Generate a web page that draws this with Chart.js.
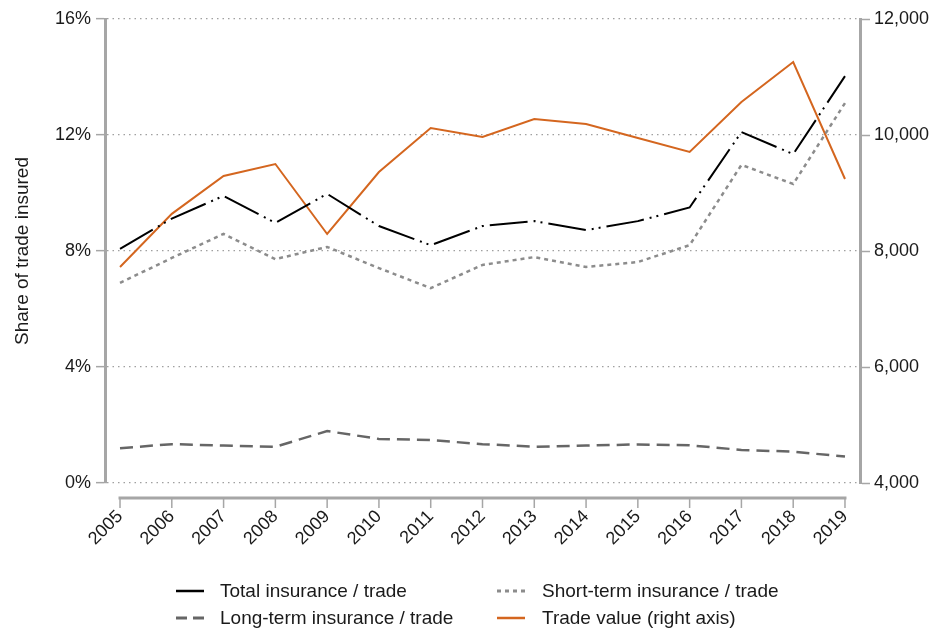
<!DOCTYPE html>
<html lang="en">
<head>
    <meta charset="UTF-8">
    <title>Share of trade insured</title>
    <script src="https://cdn.jsdelivr.net/npm/chart.js"></script>
    <style>
        html, body { margin: 0; padding: 0; background: #fff; }
        .wrap { width: 934px; height: 630px; }
    </style>
</head>
<body>
    <div class="wrap">
        <canvas id="myChart" width="934" height="630"></canvas>
    </div>

    <script>
        // data
        const years = [2005, 2006, 2007, 2008, 2009, 2010, 2011, 2012, 2013, 2014, 2015, 2016, 2017, 2018, 2019];
        const totalShare = [8.07, 9.12, 9.9, 8.97, 9.97, 8.86, 8.2, 8.86, 9.03, 8.72, 9.03, 9.5, 12.1, 11.34, 14.03];
        const shortShare = [6.9, 7.76, 8.59, 7.72, 8.14, 7.41, 6.72, 7.52, 7.79, 7.45, 7.62, 8.2, 10.97, 10.31, 13.1];
        const longShare = [1.2, 1.34, 1.29, 1.25, 1.79, 1.52, 1.48, 1.34, 1.25, 1.29, 1.33, 1.3, 1.14, 1.08, 0.91];
        const tradeValue = [7724, 8640, 9293, 9500, 8293, 9362, 10121, 9965, 10276, 10190, 9948, 9707, 10569, 11259, 9241];
        const leftTicks = [0, 4, 8, 12, 16];
        const rightTicks = [4000, 6000, 8000, 10000, 12000];

        const FONT = '"Liberation Sans", Arial, sans-serif';
        const AXIS_GREY = '#a6a6a6';
        const TEXT = '#1a1a1a';

        function pts(vals) {
            return vals.map((v, i) => ({ x: years[i], y: v }));
        }

        // x axis line sits a bit below the plot, drawn by hand
        const xAxisLine = {
            id: 'xAxisLine',
            afterDraw(chart) {
                const ctx = chart.ctx;
                const xs = chart.scales.x;
                const yb = chart.chartArea.bottom + 15;
                ctx.save();
                ctx.strokeStyle = AXIS_GREY;
                ctx.lineWidth = 3;
                ctx.beginPath();
                ctx.moveTo(xs.getPixelForValue(years[0]) - 1.5, yb);
                ctx.lineTo(xs.getPixelForValue(years[years.length - 1]) + 1.5, yb);
                ctx.stroke();
                ctx.lineWidth = 1.5;
                years.forEach(y => {
                    const px = xs.getPixelForValue(y);
                    ctx.beginPath();
                    ctx.moveTo(px, yb);
                    ctx.lineTo(px, yb + 10);
                    ctx.stroke();
                });
                ctx.restore();
            }
        };

        // two column legend under the chart
        const gridLegend = {
            id: 'gridLegend',
            afterDraw(chart) {
                const ctx = chart.ctx;
                const slots = [
                    { ds: 0, x: 176, tx: 220, y: 591 },
                    { ds: 1, x: 497, tx: 542, y: 591 },
                    { ds: 2, x: 176, tx: 220, y: 618 },
                    { ds: 3, x: 497, tx: 542, y: 618 }
                ];
                ctx.save();
                slots.forEach(s => {
                    const d = chart.data.datasets[s.ds];
                    ctx.strokeStyle = d.borderColor;
                    ctx.lineWidth = d.borderWidth + 0.5;
                    ctx.setLineDash(d.legendDash || []);
                    ctx.beginPath();
                    ctx.moveTo(s.x, s.y);
                    ctx.lineTo(s.x + 28, s.y);
                    ctx.stroke();
                    ctx.setLineDash([]);
                    ctx.fillStyle = TEXT;
                    ctx.font = '19px ' + FONT;
                    ctx.textBaseline = 'middle';
                    ctx.textAlign = 'left';
                    ctx.fillText(d.label, s.tx, s.y + 1);
                });
                ctx.restore();
            }
        };

        const ctx = document.getElementById('myChart').getContext('2d');
        new Chart(ctx, {
            type: 'line',
            data: {
                datasets: [{
                    label: 'Total insurance / trade',
                    data: pts(totalShare),
                    yAxisID: 'y',
                    borderColor: '#000',
                    borderWidth: 2,
                    borderDash: [38, 6, 2, 5, 2, 6],
                    legendDash: [],
                    pointRadius: 0
                }, {
                    label: 'Short-term insurance / trade',
                    data: pts(shortShare),
                    yAxisID: 'y',
                    borderColor: '#8c8c8c',
                    borderWidth: 2.5,
                    borderDash: [4, 4],
                    legendDash: [4, 4],
                    pointRadius: 0
                }, {
                    label: 'Long-term insurance / trade',
                    data: pts(longShare),
                    yAxisID: 'y',
                    borderColor: '#666',
                    borderWidth: 2.5,
                    borderDash: [13, 7],
                    legendDash: [11, 6],
                    pointRadius: 0
                }, {
                    label: 'Trade value (right axis)',
                    data: pts(tradeValue),
                    yAxisID: 'y2',
                    borderColor: '#d4661f',
                    borderWidth: 2,
                    legendDash: [],
                    pointRadius: 0
                }]
            },
            options: {
                responsive: false,
                animation: false,
                devicePixelRatio: 1,
                layout: { padding: { top: 19, left: 0, right: 0, bottom: 0 } },
                plugins: {
                    legend: { display: false },
                    tooltip: { enabled: false }
                },
                elements: { line: { tension: 0, borderCapStyle: 'butt' } },
                scales: {
                    x: {
                        type: 'linear',
                        position: 'bottom',
                        min: 2004.71,
                        max: 2019.29,
                        afterBuildTicks: s => { s.ticks = years.map(v => ({ value: v })); },
                        afterFit: s => { s.height = 147; },
                        ticks: {
                            callback: v => String(v),
                            autoSkip: false,
                            minRotation: 45,
                            maxRotation: 45,
                            padding: 23,
                            color: TEXT,
                            font: { family: FONT, size: 18 }
                        },
                        grid: { display: false, drawTicks: false },
                        border: { display: false }
                    },
                    y: {
                        position: 'left',
                        min: 0,
                        max: 16,
                        afterBuildTicks: s => { s.ticks = leftTicks.map(v => ({ value: v })); },
                        afterFit: s => { s.width = 105; },
                        ticks: {
                            callback: v => v + '%',
                            padding: 5,
                            color: TEXT,
                            font: { family: FONT, size: 18 }
                        },
                        grid: {
                            color: '#a0a0a0',
                            lineWidth: 1.3,
                            tickColor: AXIS_GREY,
                            tickLength: 9,
                            tickWidth: 1.5
                        },
                        border: { color: AXIS_GREY, width: 3, dash: [1.5, 4] },
                        title: {
                            display: true,
                            text: 'Share of trade insured',
                            color: TEXT,
                            font: { family: FONT, size: 19 },
                            padding: { top: 11, bottom: 0 }
                        }
                    },
                    y2: {
                        position: 'right',
                        min: 4000,
                        max: 12000,
                        afterBuildTicks: s => { s.ticks = rightTicks.map(v => ({ value: v })); },
                        afterFit: s => { s.width = 74; },
                        ticks: {
                            callback: v => v.toLocaleString('en-US'),
                            padding: 4,
                            color: TEXT,
                            font: { family: FONT, size: 18 }
                        },
                        grid: {
                            drawOnChartArea: false,
                            tickColor: AXIS_GREY,
                            tickLength: 10,
                            tickWidth: 1.5
                        },
                        border: { color: AXIS_GREY, width: 3 }
                    }
                }
            },
            plugins: [xAxisLine, gridLegend]
        });
    </script>
</body>
</html>
